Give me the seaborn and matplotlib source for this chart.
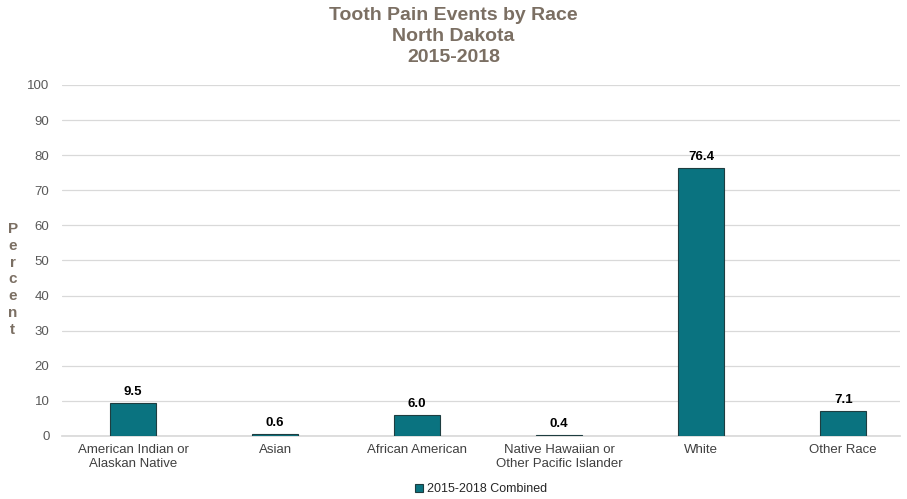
import matplotlib
matplotlib.use("Agg")
import matplotlib.pyplot as plt
import seaborn as sns
import pandas as pd

# data
races = ["American Indian or\nAlaskan Native", "Asian", "African American",
         "Native Hawaiian or\nOther Pacific Islander", "White", "Other Race"]
percent = [9.5, 0.6, 6.0, 0.4, 76.4, 7.1]
series = "2015-2018 Combined"

df = pd.DataFrame({"race": races, "percent": percent, "series": series})

sns.set_theme(style="white")
plt.rcParams["font.family"] = ["Liberation Sans", "DejaVu Sans"]

fig = plt.figure(figsize=(9.07, 4.99), dpi=100)
ax = fig.add_axes([0.0684, 0.1263, 0.9239, 0.7034])

teal = "#0A7380"
sns.barplot(data=df, x="race", y="percent", hue="series", palette=[teal],
            saturation=1, width=0.32, edgecolor="#1E3D40", linewidth=0.8,
            ax=ax, zorder=3)

for x, v in enumerate(percent):
    ax.text(x, v + 1.4, f"{v:.1f}", ha="center", va="bottom",
            fontsize=9.5, fontweight="bold", color="black")

ax.set_ylim(0, 100)
ax.set_xlim(-0.5, 5.40)
ax.set_yticks(range(0, 101, 10))
ax.yaxis.grid(True, color="#D9D9D9", linewidth=0.9, zorder=0)
ax.xaxis.grid(False)
for s in ["top", "right", "left"]:
    ax.spines[s].set_visible(False)
ax.spines["bottom"].set_color("#D9D9D9")
ax.tick_params(axis="y", length=0, labelsize=9.5, labelcolor="#595959", pad=9)
ax.tick_params(axis="x", length=0, labelsize=9.5, labelcolor="#404040", pad=6)
ax.set_xlabel("")
ax.set_ylabel("")

fig.text(0.014, 0.44, "\n".join("Percent"), ha="center", va="center",
         fontsize=11, fontweight="bold", color="#7B6F63", linespacing=1.25)

fig.text(0.5, 0.985, "Tooth Pain Events by Race\nNorth Dakota\n2015-2018",
         ha="center", va="top", fontsize=14, fontweight="bold",
         color="#7B6F63", linespacing=1.28)

ax.legend(loc="center", bbox_to_anchor=(0.5, -0.151), frameon=False,
          fontsize=9, handlelength=0.6, handleheight=0.6, handletextpad=0.3)

fig.savefig("out.png", dpi=100)
